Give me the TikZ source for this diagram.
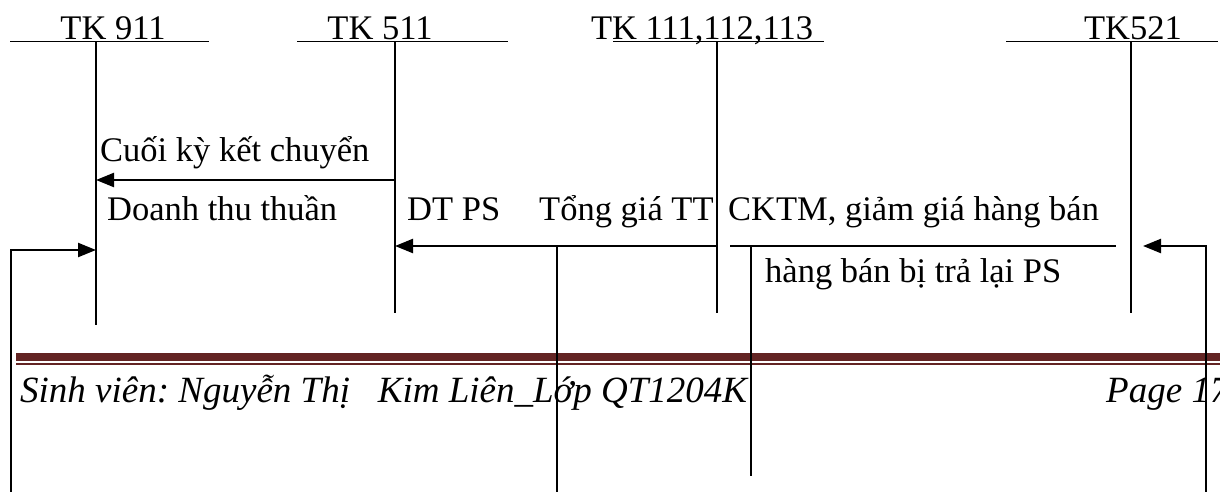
\documentclass[tikz,border=0pt]{standalone}
\usepackage{fontspec}
\setmainfont{Liberation Serif}
\usepackage{tikz}
\usetikzlibrary{arrows.meta,positioning}
\definecolor{footred}{RGB}{99,36,35}
\frenchspacing

\begin{document}
\begin{tikzpicture}[x=1pt,y=-1pt, >={Triangle[length=18pt,width=14pt]},
        every node/.style={inner sep=0pt,font=\fontsize{34.5}{38}\selectfont},
        acc/.style={anchor=base},
        lbl/.style={anchor=base west},
        foot/.style={anchor=base west,font=\fontsize{37}{40}\selectfont\itshape},
        tline/.style={line width=1.7pt},
        flow/.style={line width=2.3pt}]
        \useasboundingbox (0,0) rectangle (1220,492);

        % page footer (under the lines)
        \fill[footred] (16,352.5) rectangle (1230,360.5);
        \fill[footred] (16,362.5) rectangle (1230,364.5);
        \node[foot] (foot_l) at (20,402) {Sinh viên: Nguyễn Thị\ \ \ Kim Liên\_Lớp QT1204K};
        \node[foot] (foot_r) at (1106,402) {Page 17};

        % T accounts
        \node[acc]  (tk_911) at (113,40)  {TK 911};
        \node[acc]  (tk_511) at (380,40)  {TK 511};
        \node[acc]  (tk_111) at (702,40)  {TK 111,112,113};
        \node[acc]  (tk_521) at (1133,40) {TK521};
        \foreach \n/\l/\r/\s/\b in {911/10/209/96/325, 511/297/508/395/313,
                                    111/613/824/717/313, 521/1006/1218/1131/313}{
            \draw[tline] (\l,41.5) -- (\r,41.5);
            \draw[tline] (\s,41.5) coordinate (s_\n) -- (\s,\b) coordinate (e_\n);
        }

        % labels
        \node[lbl] (t_cuoi) at (100,161) {Cuối kỳ kết chuyển};
        \node[lbl] (t_dtt)  at (107,220) {Doanh thu thuần};
        \node[lbl] (t_dtps) at (407,220) {DT PS};
        \node[lbl] (t_tong) at (539,220) {Tổng giá TT};
        \node[lbl] (t_cktm) at (728,220) {CKTM, giảm giá hàng bán};
        \node[lbl] (t_tra)  at (765,282) {hàng bán bị trả lại PS};

        % end points of the flows
        \coordinate (k_511) at (395,180);
        \coordinate (k_911) at (96,180);
        \coordinate (p_111) at (717,246);
        \coordinate (p_511) at (395,246);
        \coordinate (r_a)   at (730,246);
        \coordinate (r_b)   at (1116,246);
        \coordinate (v_a)   at (557,246);
        \coordinate (v_b)   at (557,495);
        \coordinate (w_a)   at (751,246);
        \coordinate (w_b)   at (751,476);
        \coordinate (l_0)   at (11,495);
        \coordinate (l_1)   at (11,250);
        \coordinate (l_911) at (96,250);
        \coordinate (g_0)   at (1206,495);
        \coordinate (g_1)   at (1206,246);
        \coordinate (g_521) at (1143,246);

        \path[->,flow] (k_511) edge (k_911)
                       (p_111) edge (p_511);
        \draw[flow] (r_a) -- (r_b);
        \draw[tline] (v_a) -- (v_b);
        \draw[tline] (w_a) -- (w_b);
        \draw[->,flow] (l_0) -- (l_1) -- (l_911);
        \draw[->,flow] (g_0) -- (g_1) -- (g_521);
\end{tikzpicture}
\end{document}
